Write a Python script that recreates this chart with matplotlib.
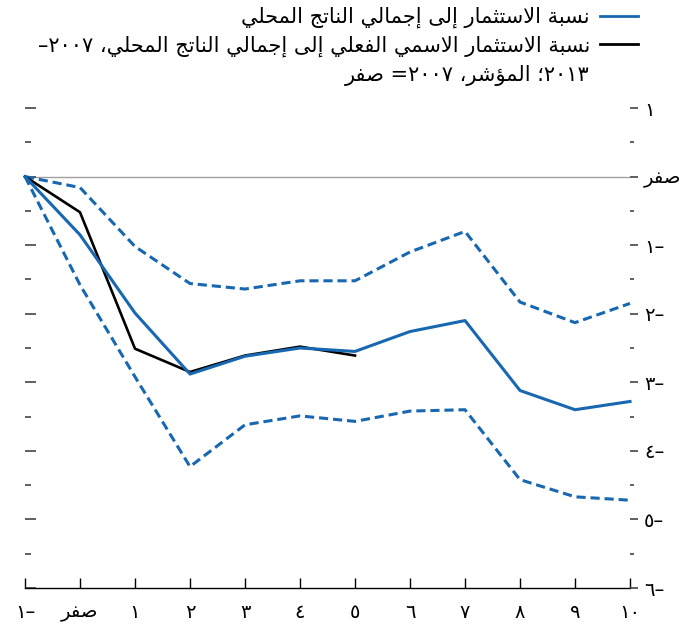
import re
import matplotlib.pyplot as plt
from matplotlib.lines import Line2D

# years after the crisis (x) and investment-to-GDP paths (percentage points)
years = [-1, 0, 1, 2, 3, 4, 5, 6, 7, 8, 9, 10]
inv_ratio = [0, -0.85, -1.99, -2.88, -2.62, -2.50, -2.55, -2.26, -2.10, -3.12, -3.40, -3.28]
inv_upper = [0, -0.16, -1.02, -1.56, -1.64, -1.52, -1.52, -1.10, -0.80, -1.83, -2.13, -1.85]
inv_lower = [0, -1.58, -2.92, -4.23, -3.62, -3.49, -3.57, -3.42, -3.40, -4.42, -4.67, -4.72]

nominal_years = [-1, 0, 1, 2, 3, 4, 5]
nominal_ratio = [0, -0.52, -2.51, -2.85, -2.61, -2.48, -2.61]

x_labels = ["–١", "صفر", "١", "٢", "٣", "٤", "٥", "٦", "٧", "٨", "٩", "١٠"]
y_ticks = [1, 0, -1, -2, -3, -4, -5, -6]
y_labels = ["١", "صفر", "–١", "–٢", "–٣", "–٤", "–٥", "–٦"]

legend_line1 = "نسبة الاستثمار إلى إجمالي الناتج المحلي"
legend_line2 = "نسبة الاستثمار الاسمي الفعلي إلى إجمالي الناتج المحلي، ٢٠٠٧–"
legend_line3 = "٢٠١٣؛ المؤشر، ٢٠٠٧= صفر"

# minimal arabic shaping (presentation forms) + visual ordering
START = {'ء': 0xFE80, 'آ': 0xFE81, 'أ': 0xFE83, 'ؤ': 0xFE85, 'إ': 0xFE87,
         'ئ': 0xFE89, 'ا': 0xFE8D, 'ب': 0xFE8F, 'ة': 0xFE93, 'ت': 0xFE95,
         'ث': 0xFE99, 'ج': 0xFE9D, 'ح': 0xFEA1, 'خ': 0xFEA5, 'د': 0xFEA9,
         'ذ': 0xFEAB, 'ر': 0xFEAD, 'ز': 0xFEAF, 'س': 0xFEB1, 'ش': 0xFEB5,
         'ص': 0xFEB9, 'ض': 0xFEBD, 'ط': 0xFEC1, 'ظ': 0xFEC5, 'ع': 0xFEC9,
         'غ': 0xFECD, 'ف': 0xFED1, 'ق': 0xFED5, 'ك': 0xFED9, 'ل': 0xFEDD,
         'م': 0xFEE1, 'ن': 0xFEE5, 'ه': 0xFEE9, 'و': 0xFEED, 'ى': 0xFEEF,
         'ي': 0xFEF1}
RIGHT_ONLY = set('آأؤإادذرزوىة')
LAM_ALEF = {'ا': 0xFEFB, 'أ': 0xFEF7, 'إ': 0xFEF9, 'آ': 0xFEF5}


def joins(c):
    return c in START and c != 'ء'


def shape(text):
    out = []
    prev_joins = False
    i = 0
    n = len(text)
    while i < n:
        c = text[i]
        if c not in START:
            out.append(c)
            prev_joins = False
            i += 1
            continue
        if c == 'ل' and i + 1 < n and text[i + 1] in LAM_ALEF:
            out.append(chr(LAM_ALEF[text[i + 1]] + (1 if prev_joins else 0)))
            prev_joins = False
            i += 2
            continue
        nxt = text[i + 1] if i + 1 < n else ''
        join_next = joins(c) and c not in RIGHT_ONLY and joins(nxt)
        if c == 'ء':
            form = 0
        elif prev_joins and join_next:
            form = 3
        elif prev_joins:
            form = 1
        elif join_next:
            form = 2
        else:
            form = 0
        out.append(chr(START[c] + form))
        prev_joins = join_next
        i += 1
    return ''.join(out)


def ar(text):
    s = shape(text)
    runs = re.findall(r'[0-9\u0660-\u0669]+|[^0-9\u0660-\u0669]', s)
    return ''.join(reversed(runs))


plt.rcParams['font.family'] = ['DejaVu Sans']
blue = '#1767b1'

fig = plt.figure(figsize=(6.83, 6.30), dpi=100)
ax = fig.add_axes([25 / 683, 1 - 588 / 630, 605 / 683, 480 / 630])

ax.axhline(0, color='#a0a0a0', lw=1.0, zorder=1)
ax.plot(years, inv_upper, color=blue, lw=2.2, dashes=(3, 1.6), clip_on=False)
ax.plot(years, inv_lower, color=blue, lw=2.2, dashes=(3, 1.6), clip_on=False)
ax.plot(nominal_years, nominal_ratio, color='black', lw=1.9, clip_on=False)
ax.plot(years, inv_ratio, color=blue, lw=2.2, clip_on=False)

ax.set_xlim(-1, 10)
ax.set_ylim(-6, 1)
for s in ['top', 'left', 'right']:
    ax.spines[s].set_visible(False)
ax.spines['bottom'].set_linewidth(1.0)

ax.set_xticks(years)
ax.set_xticklabels([ar(t) for t in x_labels], fontsize=14)
ax.tick_params(axis='x', direction='in', length=7, width=1, pad=11)

ax.set_yticks(y_ticks)
ax.set_yticks([v + 0.5 for v in y_ticks[1:]], minor=True)
ax.set_yticklabels([])
ax.tick_params(axis='y', which='major', direction='in', length=8, width=1.2, color='#444444')
ax.tick_params(axis='y', which='minor', direction='in', length=4, width=1.2, color='#444444')

ax2 = ax.twinx()
ax2.set_ylim(ax.get_ylim())
for s in ['top', 'left', 'right', 'bottom']:
    ax2.spines[s].set_visible(False)
ax2.set_yticks(y_ticks)
ax2.set_yticklabels([ar(t) for t in y_labels], fontsize=14)
ax2.set_yticks([v + 0.5 for v in y_ticks[1:]], minor=True)
ax2.tick_params(axis='y', which='major', direction='out', length=6, width=1.2, color='#444444', pad=4)
ax2.tick_params(axis='y', which='minor', direction='out', length=3, width=1.2, color='#444444')

# legend (right-to-left)
fig.text(590 / 683, 1 - 17 / 630, ar(legend_line1), ha='right', va='center', fontsize=15)
fig.text(590 / 683, 1 - 46 / 630, ar(legend_line2), ha='right', va='center', fontsize=15)
fig.text(590 / 683, 1 - 75 / 630, ar(legend_line3), ha='right', va='center', fontsize=15)
fig.add_artist(Line2D([600 / 683, 638 / 683], [1 - 16 / 630] * 2, transform=fig.transFigure, color=blue, lw=2))
fig.add_artist(Line2D([600 / 683, 638 / 683], [1 - 44 / 630] * 2, transform=fig.transFigure, color='black', lw=2))

fig.savefig('out.png', dpi=100)
